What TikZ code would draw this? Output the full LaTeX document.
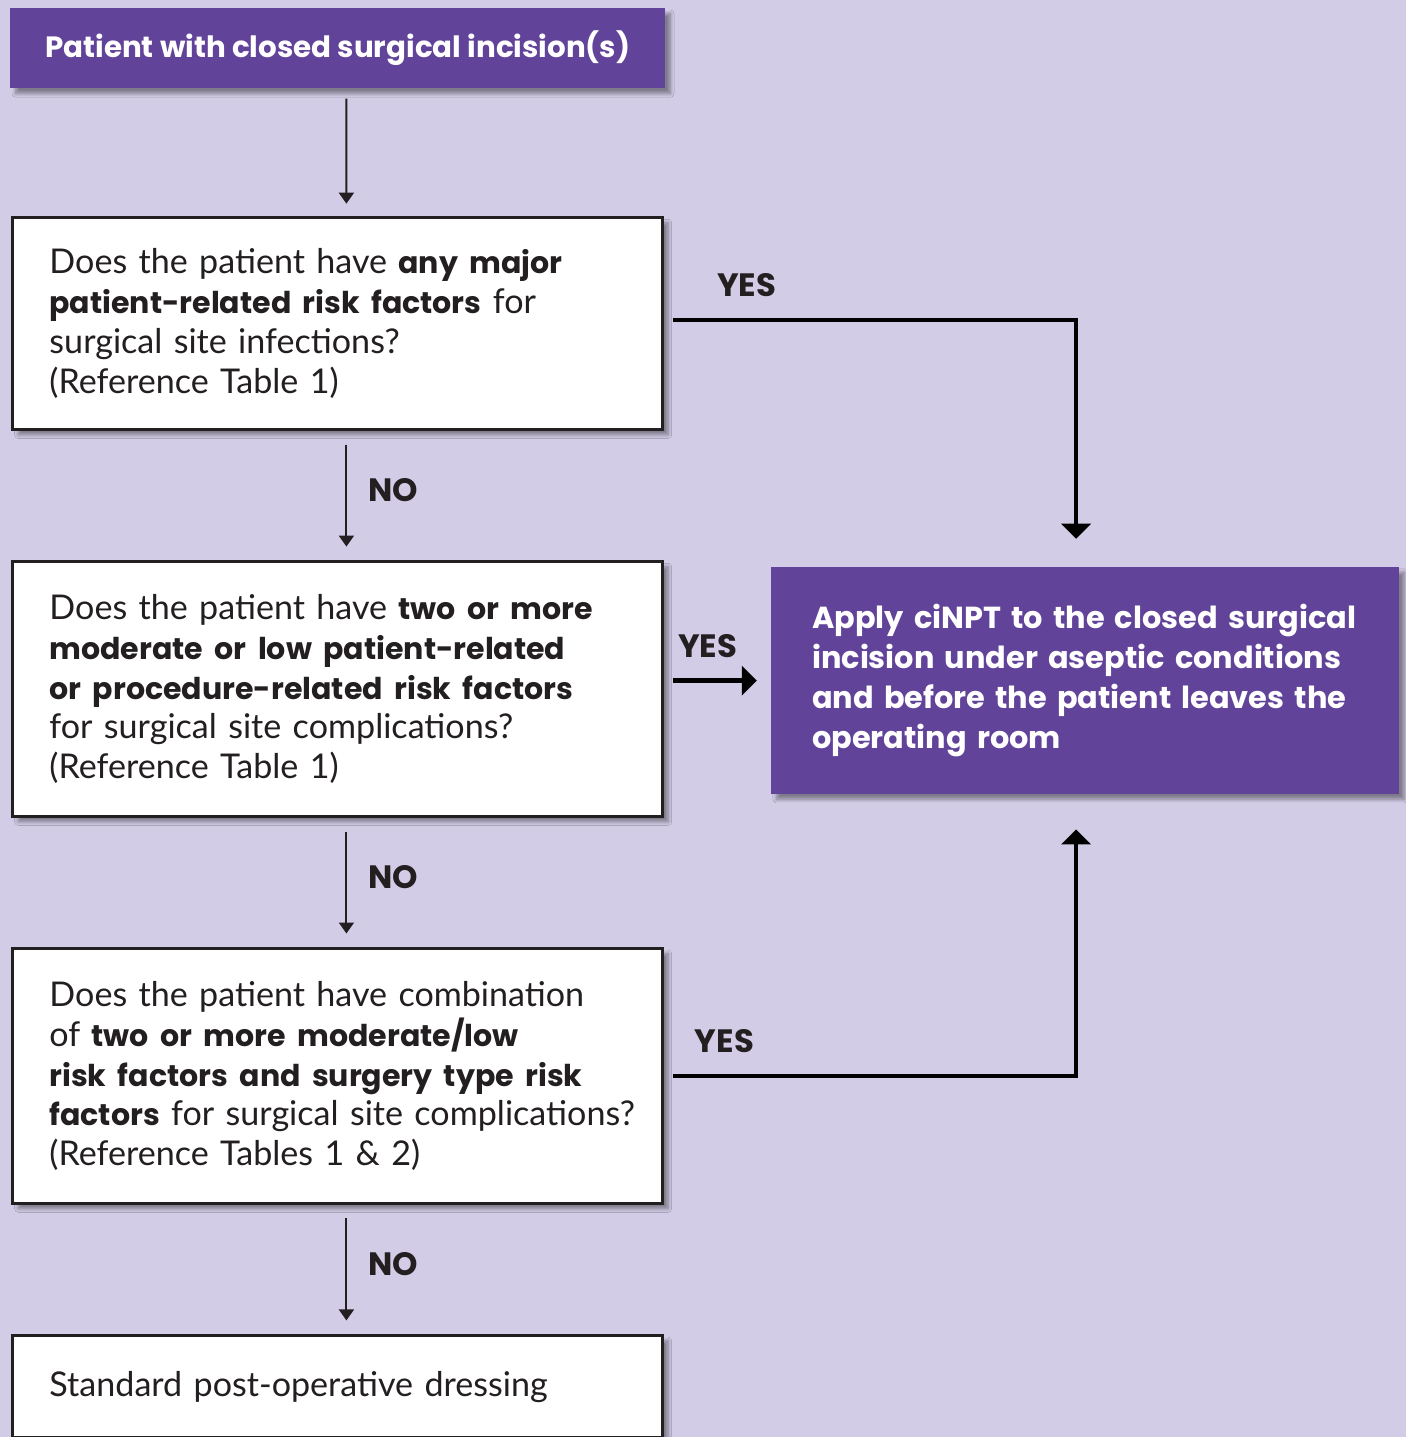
\documentclass[tikz,border=0pt]{standalone}
\usepackage{fontspec}
\setmainfont{Lato}
\newfontfamily\popfont{Poppins}
\usetikzlibrary{arrows.meta,positioning,shadows.blur}

\definecolor{bglav}{RGB}{210,204,230}
\definecolor{cpurple}{RGB}{98,67,154}
\definecolor{ink}{RGB}{35,31,32}
\newcommand{\hl}[1]{{\popfont\bfseries\fontsize{17.1}{22.7}\selectfont #1}}

\begin{document}
\begin{tikzpicture}[
  x=0.02cm, y=-0.02cm,
  font=\fontsize{19.4}{22.7}\selectfont,
  shade/.style={blur shadow={shadow xshift=3pt, shadow yshift=-3pt, shadow blur steps=8, shadow opacity=40}},
  qbox/.style={draw=ink, line width=1.7pt, fill=white, text=ink, shade, minimum width=13cm, inner xsep=0.73cm, inner ysep=0pt, text width=11.54cm, align=left},
  pbox/.style={fill=cpurple, text=white, shade, inner sep=0pt},
  lbl/.style={font=\popfont\bfseries\fontsize{18.4}{20}\selectfont, text=ink},
  thin/.style={draw=ink, line width=1.1pt, -{Triangle[width=0.3cm,length=0.22cm]}},
  thick/.style={draw=black, line width=2.6pt, -{Triangle[width=0.58cm,length=0.3cm]}}
]

\useasboundingbox (0,0) rectangle (1406,1437);
\clip (0,0) rectangle (1406,1437);
\fill[bglav] (0,0) rectangle (1406,1437);

% left column
\node[pbox, font=\popfont\bfseries\fontsize{16.7}{22.7}\selectfont, minimum width=13.1cm, minimum height=1.6cm, anchor=north west] (start) at (10,8) {Patient with closed surgical incision(s)};

\node[qbox, minimum height=4.24cm, below=2.55cm of start.south west, anchor=north west, xshift=0.03cm] (q1) {Does the patient have \hl{any major}\\
\hl{patient-related risk factors} for\\
surgical site infections?\\
(Reference Table 1)};

\node[qbox, minimum height=5.1cm, below=2.58cm of q1] (q2) {Does the patient have \hl{two or more}\\
\hl{moderate or low patient-related}\\
\hl{or procedure-related risk factors}\\
for surgical site complications?\\
(Reference Table 1)};

\node[qbox, minimum height=5.1cm, below=2.58cm of q2] (q3) {Does the patient have combination\\
of \hl{two or more moderate/low}\\
\hl{risk factors and surgery type risk}\\
\mbox{\hl{factors} for surgical site complications?}\\
(Reference Tables 1 \& 2)};

\node[qbox, minimum height=2.05cm, below=2.58cm of q3] (std) {Standard post-operative dressing};

% right column
\node[pbox, font=\popfont\bfseries\fontsize{17.3}{22.7}\selectfont, minimum width=12.56cm, minimum height=4.54cm, inner xsep=0.82cm, text width=10.92cm, align=left, right=2.13cm of q2, yshift=0.17cm] (act) {Apply ciNPT to the closed surgical\\
incision under aseptic conditions\\
and before the patient leaves the\\
operating room};

% connectors
\draw[thin, shorten <=0.2cm, shorten >=0.25cm] ([xshift=0.17cm]start.south) -- ([xshift=0.17cm]q1.north);
\draw[thin, shorten <=0.27cm, shorten >=0.27cm] ([xshift=0.17cm]q1.south) -- node[lbl, right=0.3cm, yshift=0.1cm] {NO} ([xshift=0.17cm]q2.north);
\draw[thin, shorten <=0.27cm, shorten >=0.27cm] ([xshift=0.17cm]q2.south) -- node[lbl, right=0.3cm, yshift=0.1cm] {NO} ([xshift=0.17cm]q3.north);
\draw[thin, shorten <=0.27cm, shorten >=0.27cm] ([xshift=0.17cm]q3.south) -- node[lbl, right=0.3cm, yshift=0.1cm] {NO} ([xshift=0.17cm]std.north);

\draw[thick, shorten <=0.17cm, shorten >=0.56cm] ([yshift=0.07cm]q1.east) -| node[lbl, pos=0.1, above=0.3cm] {YES} ([xshift=-0.18cm]act.north);
\draw[thick, shorten <=0.17cm, shorten >=0.28cm] (q2.east |- act.west) -- node[lbl, above=0.3cm, xshift=-0.2cm] {YES} (act.west);
\draw[thick, shorten <=0.17cm, shorten >=0.7cm] (q3.east) -| node[lbl, pos=0.073, above=0.3cm] {YES} ([xshift=-0.18cm]act.south);

\end{tikzpicture}
\end{document}
